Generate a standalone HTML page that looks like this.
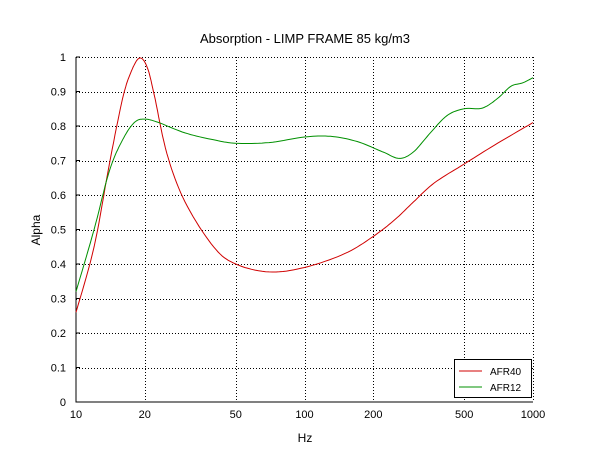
<!DOCTYPE html>
<html><head><meta charset="utf-8"><style>
body{margin:0;background:#fff;}
svg{display:block;font-family:"Liberation Sans",sans-serif;}
</style></head><body>
<svg id="s" width="610" height="460" viewBox="0 0 610 460" xmlns="http://www.w3.org/2000/svg">
<rect width="610" height="460" fill="#fff"/>
<text x="305" y="43" font-size="13" text-anchor="middle">Absorption - LIMP FRAME 85 kg/m3</text>
<g id="grid" stroke="#000" stroke-width="1" stroke-dasharray="1,2" fill="none"></g>
<g id="ticks" font-size="11"></g>
<line x1="76" y1="57" x2="76" y2="402.5" stroke="#000"/>
<line x1="75.5" y1="402" x2="533" y2="402" stroke="#000"/>
<text x="305" y="442" font-size="12" text-anchor="middle">Hz</text>
<text x="40" y="230" font-size="12" text-anchor="middle" transform="rotate(-90 40 230)">Alpha</text>
<path id="red" fill="none" stroke="#d00000" stroke-width="1"/>
<path id="green" fill="none" stroke="#009000" stroke-width="1"/>
<rect x="454.5" y="359.5" width="77" height="38" fill="#fff" stroke="#000"/>
<line x1="459" y1="371" x2="482" y2="371" stroke="#d00000"/>
<line x1="459" y1="387" x2="482" y2="387" stroke="#009000"/>
<text x="490" y="375" font-size="10">AFR40</text>
<text x="490" y="391" font-size="10">AFR12</text>
</svg>
<script>
var NS="http://www.w3.org/2000/svg";
function X(f){return 76+Math.log10(f/10)*228.5;}
function Y(a){return 402-a*345;}
var g=document.getElementById('grid'),t=document.getElementById('ticks');
function el(p,tag,at,txt){var e=document.createElementNS(NS,tag);for(var k in at)e.setAttribute(k,at[k]);if(txt)e.textContent=txt;p.appendChild(e);}
for(var i=1;i<=10;i++){var y=Math.round(Y(i/10))+0.5;el(g,'line',{x1:76,y1:y,x2:533,y2:y});}
for(var i=0;i<=10;i++){var y=Y(i/10);el(t,'text',{x:66,y:y+4,'text-anchor':'end'},i==0?'0':i==10?'1':(i/10).toFixed(1));el(t,'line',{x1:76,y1:Y(i/10),x2:80,y2:Y(i/10),stroke:'#000'});}
[20,50,100,200,500,1000].forEach(function(f){var x=Math.round(X(f))+0.5;el(g,'line',{x1:x,y1:57,x2:x,y2:402});});
[10,20,50,100,200,500,1000].forEach(function(f){el(t,'text',{x:X(f),y:418,'text-anchor':'middle'},''+f);});
function path(pts){var P=pts.map(function(p){return [X(p[0]),Y(p[1])];});var d='M'+P[0][0]+','+P[0][1];
for(var i=0;i<P.length-1;i++){var p0=P[Math.max(i-1,0)],p1=P[i],p2=P[i+1],p3=P[Math.min(i+2,P.length-1)];
for(var s=1;s<=10;s++){var u=s/10,u2=u*u,u3=u2*u;var x=0.5*((2*p1[0])+(-p0[0]+p2[0])*u+(2*p0[0]-5*p1[0]+4*p2[0]-p3[0])*u2+(-p0[0]+3*p1[0]-3*p2[0]+p3[0])*u3);
var y=0.5*((2*p1[1])+(-p0[1]+p2[1])*u+(2*p0[1]-5*p1[1]+4*p2[1]-p3[1])*u2+(-p0[1]+3*p1[1]-3*p2[1]+p3[1])*u3);d+=' L'+x.toFixed(1)+','+y.toFixed(1);}}
return d;}
document.getElementById('red').setAttribute('d',path([[10,0.26],[12,0.45],[14,0.69],[16,0.88],[17.5,0.96],[19,0.997],[20.5,0.97],[22,0.89],[25,0.72],[30,0.58],[40,0.45],[50,0.40],[70,0.377],[100,0.39],[150,0.43],[200,0.48],[250,0.53],[300,0.58],[370,0.635],[500,0.69],[700,0.75],[1000,0.81]]));
document.getElementById('green').setAttribute('d',path([[10,0.32],[12,0.5],[14,0.67],[16,0.76],[18,0.81],[20,0.82],[23,0.81],[30,0.78],[40,0.76],[50,0.75],[70,0.752],[100,0.768],[130,0.77],[170,0.755],[220,0.725],[260,0.706],[300,0.725],[350,0.775],[420,0.83],[500,0.85],[600,0.852],[700,0.88],[800,0.915],[900,0.925],[1000,0.94]]));
</script>
</body></html>
